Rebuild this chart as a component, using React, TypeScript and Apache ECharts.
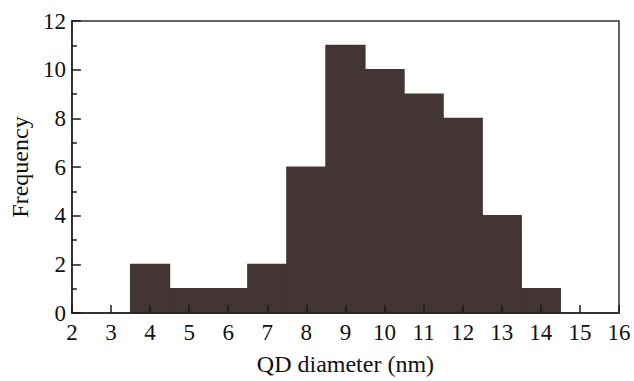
import React, { useEffect, useRef } from "react";
import * as echarts from "echarts";

const binStarts = [3.5, 4.5, 5.5, 6.5, 7.5, 8.5, 9.5, 10.5, 11.5, 12.5, 13.5];
const binEnds = [4.5, 5.5, 6.5, 7.5, 8.5, 9.5, 10.5, 11.5, 12.5, 13.5, 14.5];
const frequencies = [2, 1, 1, 2, 6, 11, 10, 9, 8, 4, 1];

const FONT = "Liberation Serif";

export default function App() {
  const ref = useRef<HTMLDivElement>(null);
  useEffect(() => {
    if (!ref.current) return;
    const chart = echarts.init(ref.current, null, { renderer: "svg" });
    const data = frequencies.map((v, i) => [binStarts[i], binEnds[i], v]);
    chart.setOption({
      animation: false,
      backgroundColor: "#ffffff",
      textStyle: { fontFamily: FONT },
      grid: {
        left: 70,
        right: 15,
        top: 21,
        bottom: 62,
        show: true,
        borderColor: "#333",
        borderWidth: 1.5,
        backgroundColor: "transparent",
        z: 5,
      },
      xAxis: {
        type: "value",
        min: 2,
        max: 16,
        interval: 1,
        z: 5,
        name: "QD diameter (nm)",
        nameLocation: "middle",
        nameGap: 39,
        nameTextStyle: { fontFamily: FONT, fontSize: 24, color: "#111" },
        axisLine: { show: true, lineStyle: { color: "#222", width: 1.5 } },
        axisTick: { show: true, inside: true, length: 8, lineStyle: { color: "#1a1a1a", width: 1.5 } },
        axisLabel: { fontFamily: FONT, fontSize: 23, color: "#111", margin: 8 },
        splitLine: { show: false },
      },
      yAxis: {
        type: "value",
        min: 0,
        max: 12,
        interval: 2,
        z: 5,
        name: "Frequency",
        nameLocation: "middle",
        nameGap: 38,
        nameTextStyle: { fontFamily: FONT, fontSize: 24, color: "#111" },
        axisLine: { show: true, lineStyle: { color: "#222", width: 1.5 } },
        axisTick: { show: true, inside: true, length: 9, lineStyle: { color: "#1a1a1a", width: 1.5 } },
        minorTick: { show: true, splitNumber: 2, length: 5, lineStyle: { color: "#1a1a1a", width: 1.5 } },
        axisLabel: { fontFamily: FONT, fontSize: 23, color: "#111", margin: 6 },
        splitLine: { show: false },
      },
      series: [
        {
          type: "custom",
          z: 1,
          data,
          encode: { x: [0, 1], y: 2 },
          renderItem: (params: any, api: any) => {
            const p0 = api.coord([api.value(0), 0]);
            const p1 = api.coord([api.value(1), api.value(2)]);
            return {
              type: "rect",
              shape: { x: p0[0], y: p1[1], width: p1[0] - p0[0], height: p0[1] - p1[1] },
              style: { fill: "#443535", stroke: "#443535", lineWidth: 1.2 },
            };
          },
        },
      ],
    });
    return () => chart.dispose();
  }, []);
  return (
    <div
      ref={ref}
      style={{ position: "absolute", left: 0, top: 0, width: 634, height: 381 }}
    />
  );
}
